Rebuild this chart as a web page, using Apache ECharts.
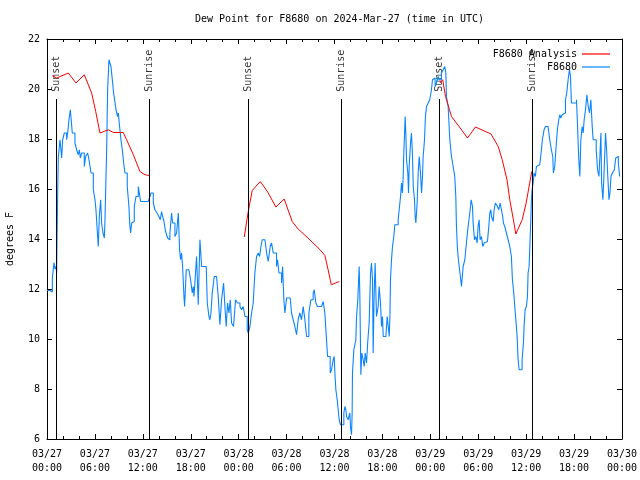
<!DOCTYPE html>
<html>
<head>
<meta charset="utf-8">
<script src="https://cdn.jsdelivr.net/npm/echarts@6/dist/echarts.min.js"></script>
<style>html,body{margin:0;padding:0;background:#fff;}#c{width:640px;height:480px;}</style>
</head>
<body>
<div id="c"></div>
<script>
var titleText = 'Dew Point for F8680 on 2024-Mar-27 (time in UTC)';
var yName = 'degrees F';
var xTickLabels = ['03/27\n00:00','03/27\n06:00','03/27\n12:00','03/27\n18:00','03/28\n00:00','03/28\n06:00','03/28\n12:00','03/28\n18:00','03/29\n00:00','03/29\n06:00','03/29\n12:00','03/29\n18:00','03/30\n00:00'];
var sunTimes = [1.21, 12.81, 25.2, 36.88, 49.1, 60.74];
var sunLabels = ['Sunset','Sunrise','Sunset','Sunrise','Sunset','Sunrise'];

// Observations: hours since 03/27 00:00 UTC, dew point (F)
var obsHours = [0.0,0.38,0.67,0.88,1.0,1.13,1.21,1.25,1.34,1.42,1.63,1.84,1.96,2.17,2.46,2.59,2.75,2.92,3.17,3.5,3.71,3.92,4.05,4.17,4.34,4.67,4.84,5.09,5.26,5.51,5.8,6.01,6.13,6.34,6.42,6.55,6.72,6.84,7.01,7.18,7.26,7.34,7.47,7.59,7.76,7.88,8.01,8.22,8.34,8.47,8.64,8.84,8.93,9.09,9.26,9.43,9.6,9.76,10.05,10.26,10.35,10.47,10.6,10.76,10.93,11.14,11.43,11.56,11.72,12.68,12.89,13.02,13.18,13.31,13.52,13.77,14.02,14.18,14.35,14.48,14.64,14.85,15.1,15.27,15.39,15.6,15.73,16.02,16.23,16.44,16.6,16.73,16.85,16.98,17.15,17.23,17.44,17.77,
17.9,17.98,18.19,18.32,18.4,18.52,18.65,18.73,18.94,19.15,19.36,19.94,20.07,20.28,20.4,20.53,20.69,20.94,21.23,21.44,21.65,21.86,22.11,22.28,22.44,22.61,22.78,22.95,23.11,23.36,23.61,23.86,24.16,24.36,24.57,24.78,25.07,25.2,25.41,25.62,25.82,26.03,26.24,26.45,26.62,26.79,26.95,27.29,27.5,27.7,27.95,28.12,28.33,28.74,28.87,29.04,29.37,29.5,29.66,29.79,30.0,30.46,30.62,30.83,31.04,31.25,31.45,31.66,31.87,32.08,32.29,32.5,32.79,33.04,33.33,33.46,33.67,33.87,34.38,34.58,34.79,35.0,35.13,35.46,35.63,35.84,35.96,
36.05,36.17,36.34,36.46,36.59,36.75,37.0,37.17,37.3,37.42,37.51,37.63,37.71,37.92,38.0,38.13,38.21,38.25,38.42,38.55,38.67,38.76,38.92,39.09,39.17,39.3,39.42,39.59,39.72,39.84,40.01,40.18,40.34,40.51,40.63,40.76,40.84,40.97,41.09,41.18,41.26,41.47,41.59,41.76,41.89,42.01,42.1,42.43,42.6,42.73,42.85,42.94,43.01,43.14,43.26,43.43,43.55,43.97,44.06,44.27,44.39,44.51,44.6,44.68,44.85,44.93,45.02,45.18,45.27,45.35,45.52,45.64,45.77,45.86,46.02,46.1,46.19,46.35,46.48,46.61,46.77,46.9,47.02,47.1,47.27,47.39,47.52,47.73,47.93,48.14,48.27,48.44,48.6,48.77,48.98,49.1,49.39,49.6,49.81,49.94,50.02,50.23,50.44,50.65,50.86,51.06,51.19,51.27,51.4,51.56,51.81,51.9,52.11,52.32,52.52,52.73,52.94,53.11,53.28,53.36,53.53,
53.69,53.86,53.98,54.11,54.23,54.4,54.57,54.74,54.91,55.15,55.32,55.45,55.57,55.66,55.87,55.99,56.15,56.4,56.57,56.74,56.9,57.07,57.15,57.32,57.53,57.74,57.95,58.15,58.28,58.45,58.57,58.74,58.87,58.99,59.12,59.33,59.49,59.66,59.74,59.87,60.03,60.16,60.24,60.37,60.49,60.58,60.66,60.74,60.87,60.99,61.16,61.28,61.49,61.7,61.91,62.03,62.24,62.41,62.74,62.95,63.16,63.33,63.41,63.58,63.75,63.91,64.08,64.21,64.33,64.5,64.75,64.92,65.08,65.25,65.42,65.55,65.67,66.01,66.3,66.42,66.59,66.72,66.85,67.01,67.14,67.26,67.43,67.6,67.77,67.93,68.1,68.27,68.39,68.61,68.77,68.94,69.11,69.23,69.36,69.44,69.61,69.78,69.94,70.07,70.2,70.37,70.49,70.62,70.79,71.04,71.21,71.38,71.54,71.71];
var obsValues = [11.94,11.88,12.44,13.06,12.8,12.9,12.64,13.77,15.9,17.3,17.97,17.24,17.97,18.24,17.97,18.24,18.77,19.17,18.24,17.84,17.57,17.37,17.57,17.24,17.44,16.9,17.3,17.44,17.17,16.64,15.97,15.57,15.17,14.1,13.7,14.9,15.57,14.64,14.24,14.04,14.77,15.84,17.57,19.97,21.17,21.17,20.9,20.24,19.84,19.57,19.17,18.9,19.04,18.5,17.97,17.57,17.04,16.64,16.1,15.3,14.64,14.24,14.64,14.7,15.3,15.7,16.1,15.84,15.5,15.5,15.7,15.84,15.84,15.44,15.17,15.04,14.9,14.77,15.1,14.9,14.7,14.3,14.04,13.97,14.24,15.04,14.64,14.1,14.24,15.04,13.57,13.17,13.44,12.9,11.7,11.3,12.77,12.77,
12.77,12.37,11.84,12.1,11.7,12.24,12.9,13.3,11.37,13.97,12.9,12.9,11.44,10.9,10.77,11.04,11.84,12.5,12.5,11.7,10.57,11.57,12.24,11.3,10.5,11.44,11.04,11.57,10.64,10.5,11.57,11.44,11.3,11.17,11.3,10.9,10.37,10.24,10.5,11.04,11.44,12.64,13.3,13.44,13.3,13.7,13.97,14.04,13.44,13.1,13.7,13.84,13.44,12.9,13.17,12.64,12.24,12.9,11.57,11.04,11.64,11.64,11.04,10.77,10.5,10.17,10.77,11.04,10.77,11.3,10.77,10.1,11.04,11.57,11.84,11.97,11.44,11.3,11.3,11.5,11.04,9.97,9.3,8.64,8.77,9.17,9.3,
8.64,7.97,7.57,7.17,6.77,6.57,6.57,7.04,7.3,7.17,6.9,6.97,6.77,7.04,6.5,6.17,7.04,8.64,9.57,9.57,9.97,10.9,11.57,12.9,11.84,8.57,9.44,9.17,8.9,9.44,9.04,9.97,10.64,12.64,13.04,12.37,9.44,11.84,13.04,11.84,10.9,11.3,12.1,11.44,10.5,10.9,10.1,10.1,10.9,10.5,10.1,10.9,12.37,13.17,13.7,14.1,14.57,14.77,15.04,15.7,16.24,15.84,16.5,17.44,18.9,18.24,17.17,16.64,15.84,16.9,17.84,18.24,17.3,16.1,15.57,14.9,14.64,15.44,16.64,17.3,16.64,15.84,16.5,17.3,17.97,18.9,19.3,19.44,19.57,19.97,20.37,20.44,20.1,20.24,20.5,20.37,20.64,20.77,20.9,20.64,19.7,19.3,17.97,17.3,16.9,16.5,15.7,14.5,13.57,13.04,12.37,12.1,12.9,13.17,13.84,14.5,15.04,15.57,15.3,14.64,13.97,
14.1,13.84,14.5,14.77,13.97,14.1,13.7,13.84,13.9,13.97,14.5,15.04,15.17,14.9,14.7,15.17,15.44,15.3,15.17,15.44,15.17,14.9,14.64,14.5,14.24,13.97,13.7,13.3,12.37,11.84,11.3,10.64,10.1,9.17,8.77,8.77,9.17,9.84,10.5,11.17,11.3,11.7,12.64,12.9,13.97,14.77,15.57,15.97,16.24,16.64,16.5,16.9,16.97,17.04,17.57,17.97,18.37,18.5,18.5,17.97,17.57,17.3,16.64,16.9,17.7,18.37,18.77,18.97,18.84,18.97,19.04,19.57,19.84,20.37,20.77,20.5,19.44,19.44,19.57,18.64,17.17,16.5,17.97,18.5,18.24,18.77,19.17,19.77,19.3,19.04,19.57,18.5,17.97,17.97,17.57,16.77,16.5,17.3,18.24,16.24,15.57,16.9,18.24,17.57,16.64,15.57,15.84,16.5,16.64,16.77,17.24,17.3,17.04,16.5];

// Analysis (three nightly segments; null = gap)
var anaHours = [0.67,1.21,2.67,3.63,4.67,5.59,6.1,6.63,7.68,8.3,9.55,9.97,10.81,11.64,12.27,12.81,
  18.0,
  24.7,25.2,25.7,26.7,27.6,28.66,29.7,30.7,31.45,32.9,34.2,34.8,35.2,35.6,36.6,
  42.0,
  49.2,49.55,49.9,50.4,50.65,51.6,52.65,53.65,55.6,56.5,57.0,57.6,57.95,58.4,58.7,59.5,60.0,60.7];
var anaValues = [20.53,20.44,20.64,20.24,20.57,19.84,19.1,18.24,18.37,18.26,18.26,17.97,17.37,16.7,16.57,16.54,
  null,
  14.08,15.1,15.94,16.3,15.9,15.28,15.6,14.7,14.4,13.97,13.57,13.34,12.77,12.17,12.3,
  null,
  20.24,20.37,19.7,19.17,18.9,18.5,18.04,18.48,18.2,17.7,17.17,16.37,15.57,14.77,14.2,14.77,15.44,16.7];

var FONT = 'DejaVu Sans Mono';
var obsData = obsHours.map(function(h, i){ return [h, obsValues[i]]; });
var anaData = anaHours.map(function(h, i){ return [h, anaValues[i]]; });
var sunLabelTop = 19.89, sunLineTop = 19.6, yMin = 6, yMax = 22;

var chart = echarts.init(document.getElementById('c'), null, {renderer: 'canvas'});
var axisCommon = {
  min: 0, max: 72, interval: 6, type: 'value',
  axisLine: {show: true, onZero: false, lineStyle: {color: '#000', width: 1}},
  axisTick: {show: true, inside: true, length: 5, lineStyle: {color: '#000'}},
  minorTick: {show: true, splitNumber: 3, length: 3, lineStyle: {color: '#000'}},
  splitLine: {show: false}
};
var yCommon = {
  type: 'value', min: yMin, max: yMax, interval: 2,
  axisLine: {show: true, onZero: false, lineStyle: {color: '#000', width: 1}},
  axisTick: {show: true, inside: true, length: 5, lineStyle: {color: '#000'}},
  splitLine: {show: false}
};
var legendText = {fontFamily: FONT, fontSize: 10, color: '#000'};
chart.setOption({
  animation: false,
  backgroundColor: '#fff',
  title: {text: titleText, left: 190, top: 9, textStyle: {fontFamily: FONT, fontSize: 10, fontWeight: 'normal', color: '#000'}},
  legend: [
    {data: ['F8680 Analysis'], right: 25, top: 44, orient: 'vertical', align: 'right', icon: 'rect', itemWidth: 28, itemHeight: 1.2, textStyle: legendText},
    {data: ['F8680'], right: 25, top: 57, orient: 'vertical', align: 'right', icon: 'rect', itemWidth: 28, itemHeight: 1.2, textStyle: legendText}
  ],
  grid: {left: 47, right: 18, top: 39, bottom: 41, outerBoundsMode: 'none', containLabel: false},
  xAxis: [
    Object.assign({}, axisCommon, {position: 'bottom',
      axisLabel: {show: true, margin: 8, fontFamily: FONT, fontSize: 10, color: '#000', lineHeight: 14,
        formatter: function(v){ return xTickLabels[Math.round(v / 6)]; }}}),
    Object.assign({}, axisCommon, {position: 'top', axisLabel: {show: false}})
  ],
  yAxis: [
    Object.assign({}, yCommon, {position: 'left', name: yName, nameLocation: 'middle', nameGap: 32, nameRotate: 90,
      nameTextStyle: {fontFamily: FONT, fontSize: 10, color: '#000'},
      axisLabel: {show: true, margin: 7, fontFamily: FONT, fontSize: 10, color: '#000'}}),
    Object.assign({}, yCommon, {position: 'right', axisLabel: {show: false}})
  ],
  series: [
    {
      name: 'sun', type: 'scatter', symbolSize: 0, silent: true, z: 1,
      data: sunTimes.map(function(t, i){ return {value: [t, sunLabelTop], name: sunLabels[i]}; }),
      label: {show: true, formatter: function(p){ return sunLabels[p.dataIndex]; }, position: [0, 0], rotate: 90,
        align: 'left', verticalAlign: 'middle', fontFamily: FONT, fontSize: 10, color: '#000'},
      markLine: {silent: true, symbol: ['none', 'none'], animation: false, label: {show: false},
        lineStyle: {color: '#000', width: 1, type: 'solid'},
        data: sunTimes.map(function(t){ return [{coord: [t, sunLineTop]}, {coord: [t, yMin]}]; })}
    },
    {
      name: 'F8680 Analysis', type: 'line', data: anaData, showSymbol: false, symbol: 'none', connectNulls: false,
      lineStyle: {color: '#ff0000', width: 1}, itemStyle: {color: '#ff0000'}, z: 3
    },
    {
      name: 'F8680', type: 'line', data: obsData, showSymbol: false, symbol: 'none', step: 'end',
      lineStyle: {color: '#0a84ff', width: 1.1}, itemStyle: {color: '#0a84ff'}, z: 2
    }
  ]
});
</script>
</body>
</html>
